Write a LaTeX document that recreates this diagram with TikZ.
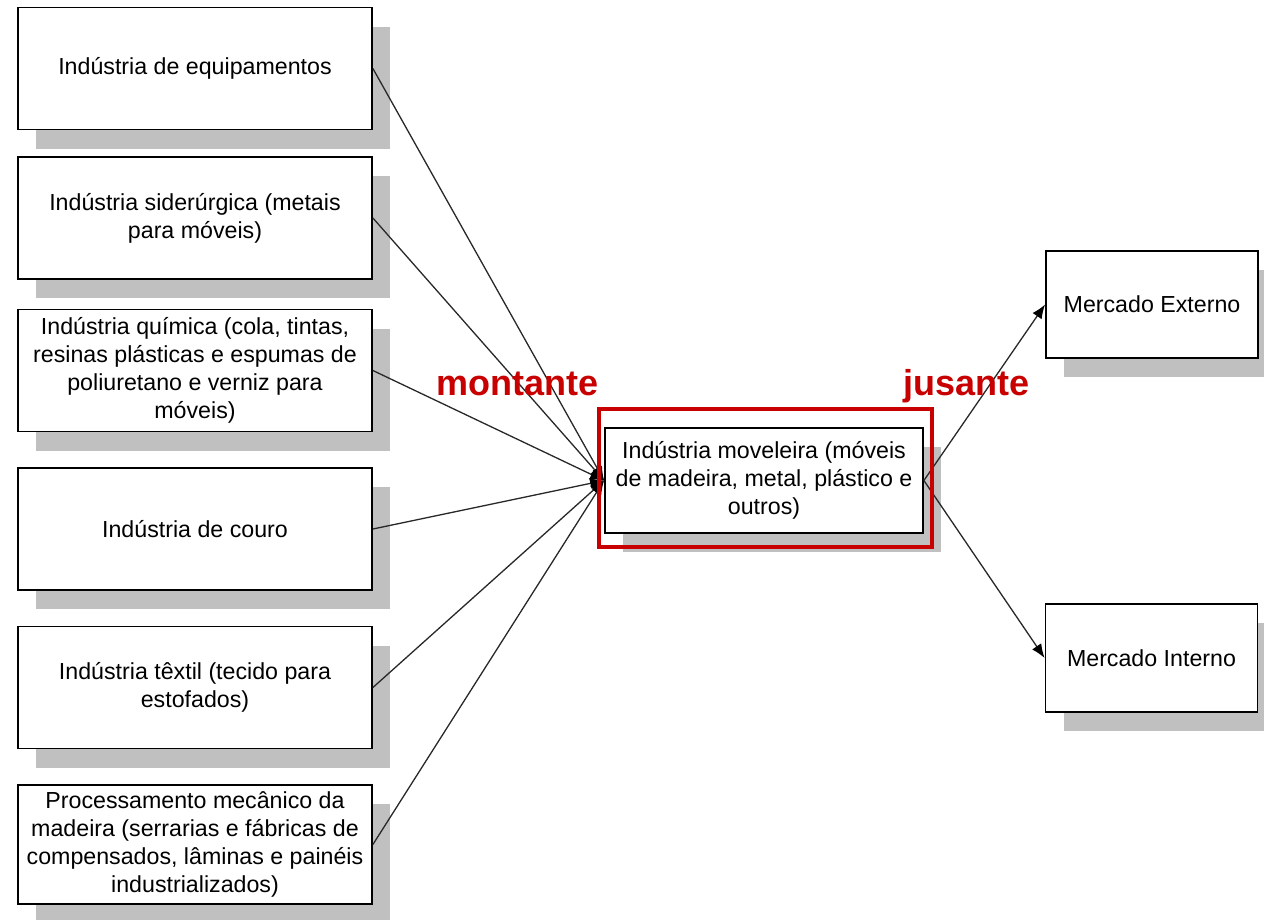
\documentclass[tikz,border=0pt]{standalone}
\usepackage{fontspec}
\setmainfont{Liberation Sans}
\usetikzlibrary{arrows.meta,shadows}
\definecolor{shadowgray}{RGB}{192,192,192}
\definecolor{markred}{RGB}{200,0,0}
\definecolor{linegray}{RGB}{40,40,40}
\begin{document}
\begin{tikzpicture}[x=1pt,y=-1pt,
  box/.style={draw=black, line width=1.8pt, fill=white, align=center,
    inner sep=0pt, font=\fontsize{23.2}{28}\selectfont,
    drop shadow={shadow xshift=18pt, shadow yshift=-19pt,
      fill=shadowgray, opacity=1, draw=none}},
  srcbox/.style={box, minimum width=354pt, minimum height=122pt},
  mktbox/.style={box, minimum width=212pt, minimum height=107pt},
  link/.style={draw=linegray, line width=1.3pt,
    -{Latex[length=14pt,width=11pt,color=black,fill=black]}},
  tag/.style={text=markred, font=\fontsize{36}{40}\selectfont\bfseries,
    anchor=base, inner sep=0pt},
  hilite/.style={draw=markred, line width=4.5pt}]
\useasboundingbox (0,0) rectangle (1264,919);
\clip (0,0) rectangle (1264,919);

% suppliers (upstream)
\node[srcbox] (equip) at (195,68.5) {Indústria de equipamentos};
\node[srcbox] (sider) at (195,218) {Indústria siderúrgica (metais\\para móveis)};
\node[srcbox] (quim)  at (195,370.5) {Indústria química (cola, tintas,\\resinas plásticas e espumas de\\poliuretano e verniz para\\móveis)};
\node[srcbox] (couro) at (195,529) {Indústria de couro};
\node[srcbox] (text)  at (195,687.5) {Indústria têxtil (tecido para\\estofados)};
\node[srcbox, minimum height=119pt] (mad) at (195,844.5) {Processamento mecânico da\\madeira (serrarias e fábricas de\\compensados, lâminas e painéis\\industrializados)};

% furniture industry
\node[box, minimum width=318pt, minimum height=105pt] (movel) at (764,480.5)
  {Indústria moveleira (móveis\\de madeira, metal, plástico e\\outros)};

% markets (downstream)
\node[mktbox] (ext) at (1152,304.5) {Mercado Externo};
\node[mktbox, minimum height=108pt] (int) at (1151.5,658) {Mercado Interno};

% supplier links
\foreach \s in {equip,sider,quim,couro,text,mad}
  \draw[link] (\s.east) -- (movel.west);

% market links
\draw[link] (movel.east) -- (ext.west);
\draw[link] (movel.east) -- (int.west);

% highlight and labels
\draw[hilite] (599,409) rectangle (932,547);
\node[tag] (mont) at (517.5,395) {montante};
\node[tag] (jus)  at (966.5,395) {jusante};
\end{tikzpicture}
\end{document}
